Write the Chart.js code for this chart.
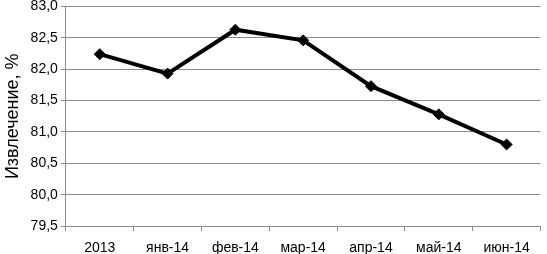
<!DOCTYPE html>
<html>
<head>
<meta charset="utf-8">
<script src="https://cdn.jsdelivr.net/npm/chart.js@4/dist/chart.umd.min.js"></script>
<style>
  html, body { margin: 0; padding: 0; background: #fff; }
  #wrap { width: 547px; height: 254px; }
</style>
</head>
<body>
<div id="wrap"><canvas id="grafico"></canvas></div>
<script>
var categorias = ["2013", "янв-14", "фев-14", "мар-14", "апр-14", "май-14", "июн-14"];
var extracao = [82.24, 81.93, 82.63, 82.46, 81.73, 81.28, 80.80];
var eixoMin = 79.5;
var eixoMax = 83.0;
var eixoPasso = 0.5;

var ctx = document.getElementById("grafico").getContext("2d");

new Chart(ctx, {
    type: "line",
    data: {
        labels: categorias,
        datasets: [{
            label: "Извлечение, %",
            data: extracao,
            borderColor: "#000",
            backgroundColor: "#000",
            borderWidth: 4,
            tension: 0,
            pointStyle: "rectRot",
            pointRadius: 5.5,
            pointBorderWidth: 1,
            fill: false
        }]
    },
    options: {
        responsive: true,
        maintainAspectRatio: false,
        animation: false,
        layout: { padding: { top: 5, right: 1, bottom: 0, left: 2 } },
        plugins: {
            legend: { display: false },
            tooltip: { enabled: false }
        },
        scales: {
            y: {
                min: eixoMin,
                max: eixoMax,
                afterFit: function (escala) {
                    escala.paddingTop = 0;
                    escala.paddingBottom = 0;
                },
                ticks: {
                    stepSize: eixoPasso,
                    color: "#000",
                    padding: 3,
                    font: { family: "Liberation Sans", size: 14 },
                    callback: function (v) { return v.toFixed(1).replace(".", ","); }
                },
                grid: {
                    color: "#8c8c8c",
                    lineWidth: 1,
                    drawTicks: true,
                    tickLength: 5
                },
                border: { color: "#8c8c8c" },
                title: {
                    display: true,
                    text: "Извлечение, %",
                    color: "#000",
                    padding: { top: 0, bottom: 4 },
                    font: { family: "Liberation Sans", size: 18 }
                }
            },
            x: {
                offset: true,
                afterFit: function (escala) {
                    escala.height = 28;
                },
                ticks: {
                    color: "#000",
                    padding: 9,
                    maxRotation: 0,
                    font: { family: "Liberation Sans", size: 14 }
                },
                grid: {
                    offset: true,
                    drawOnChartArea: false,
                    drawTicks: true,
                    tickLength: 5,
                    color: "#8c8c8c"
                },
                border: { color: "#8c8c8c" }
            }
        }
    }
});
</script>
</body>
</html>
